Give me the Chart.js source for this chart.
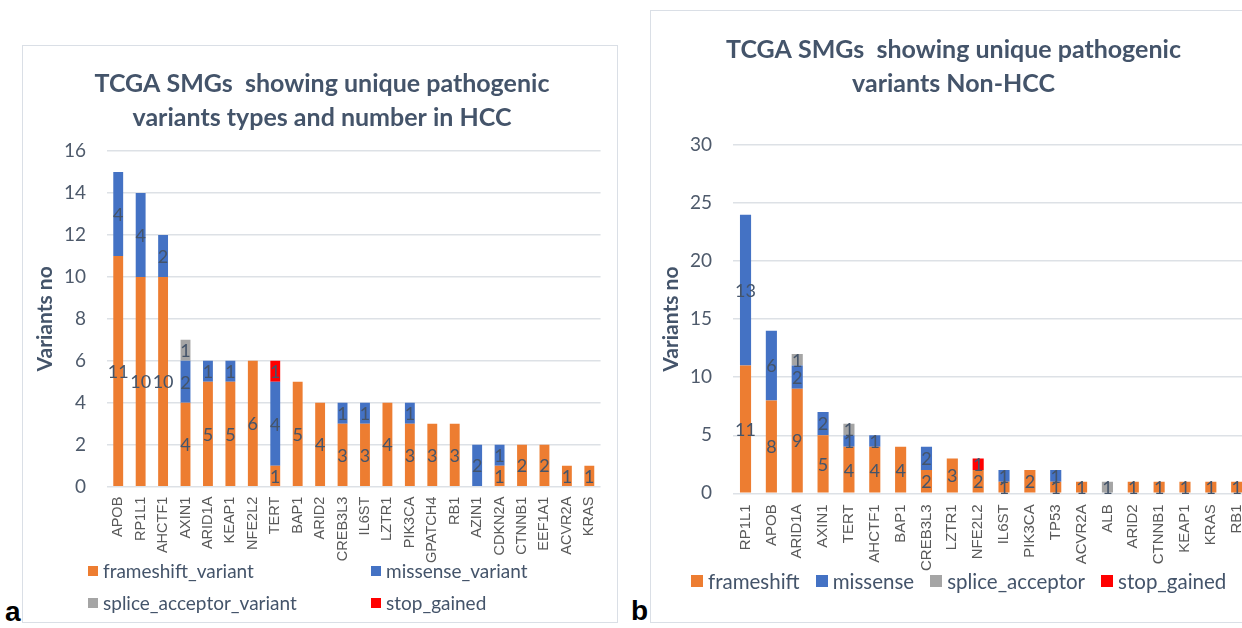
<!DOCTYPE html>
<html><head><meta charset="utf-8">
<script src="https://cdn.jsdelivr.net/npm/chart.js@4.4.0/dist/chart.umd.min.js"></script>
<style>
html,body{margin:0;padding:0;background:#fff;width:1242px;height:628px;overflow:hidden;position:relative;font-family:Lato,"Open Sans",sans-serif;}
.panel{position:absolute;border:1.5px solid #DADFE6;box-sizing:border-box;background:#fff;}
.wrap{position:absolute;}
.leg{position:absolute;color:#44546A;font-family:Lato,sans-serif;white-space:nowrap;}
.item{position:absolute;display:flex;align-items:center;}
.sw{display:inline-block;margin-right:5px;}
.tag{position:absolute;font-family:"Liberation Sans",Arial,sans-serif;font-weight:bold;font-size:28px;color:#000;line-height:1;}
</style></head>
<body>
<div class="panel" style="left:22px;top:45px;width:596px;height:578px;"></div>
<div class="panel" style="left:650px;top:10px;width:700px;height:613px;"></div>
<div class="wrap" style="left:25px;top:45px;width:592px;height:577px;"><canvas id="c1"></canvas></div>
<div class="wrap" style="left:650px;top:11px;width:620px;height:611px;"><canvas id="c2"></canvas></div>

<div class="leg" id="leg1" style="font-size:19px;"></div>
<div class="leg" id="leg2" style="font-size:20.5px;"></div>

<div class="tag" style="left:5px;top:598px;">a</div>
<div class="tag" style="left:631px;top:597px;">b</div>

<script>
// ---------- Data: chart a (HCC) ----------
const hccGenes = ["APOB","RP1L1","AHCTF1","AXIN1","ARID1A","KEAP1","NFE2L2","TERT","BAP1","ARID2","CREB3L3","IL6ST","LZTR1","PIK3CA","GPATCH4","RB1","AZIN1","CDKN2A","CTNNB1","EEF1A1","ACVR2A","KRAS"];
const hccFrameshift = [11,10,10,4,5,5,6,1,5,4,3,3,4,3,3,3,0,1,2,2,1,1];
const hccMissense   = [4,4,2,2,1,1,0,4,0,0,1,1,0,1,0,0,2,1,0,0,0,0];
const hccSplice     = [0,0,0,1,0,0,0,0,0,0,0,0,0,0,0,0,0,0,0,0,0,0];
const hccStop       = [0,0,0,0,0,0,0,1,0,0,0,0,0,0,0,0,0,0,0,0,0,0];
const hccSeriesNames = ["frameshift_variant","missense_variant","splice_acceptor_variant","stop_gained"];
const hccTitle = ["TCGA SMGs  showing unique pathogenic","variants types and number in HCC"];
const hccYMax = 16, hccYStep = 2;

// ---------- Data: chart b (Non-HCC) ----------
const nonGenes = ["RP1L1","APOB","ARID1A","AXIN1","TERT","AHCTF1","BAP1","CREB3L3","LZTR1","NFE2L2","IL6ST","PIK3CA","TP53","ACVR2A","ALB","ARID2","CTNNB1","KEAP1","KRAS","RB1"];
const nonFrameshift = [11,8,9,5,4,4,4,2,3,2,1,2,1,1,0,1,1,1,1,1];
const nonMissense   = [13,6,2,2,1,1,0,2,0,0,1,0,1,0,0,0,0,0,0,0];
const nonSplice     = [0,0,1,0,1,0,0,0,0,0,0,0,0,0,1,0,0,0,0,0];
const nonStop       = [0,0,0,0,0,0,0,0,0,1,0,0,0,0,0,0,0,0,0,0];
const nonSeriesNames = ["frameshift","missense","splice_acceptor","stop_gained"];
const nonTitle = ["TCGA SMGs  showing unique pathogenic","variants Non-HCC"];
const nonYMax = 30, nonYStep = 5;

const yTitleText = "Variants no";
const seriesColors = ["#ED7D31","#4472C4","#A5A5A5","#FF0000"];

const TXT = "#44546A";

const valueLabels = {
  id:'valueLabels',
  afterDatasetsDraw(chart, args, opts){
    const ctx = chart.ctx;
    ctx.save();
    ctx.font = opts.font;
    ctx.fillStyle = opts.color;
    ctx.textAlign = 'center';
    ctx.textBaseline = 'middle';
    chart.data.datasets.forEach((ds,i)=>{
      const meta = chart.getDatasetMeta(i);
      meta.data.forEach((el,j)=>{
        const v = ds.data[j];
        if (!v) return;
        const p = el.getProps(['x','y','base'], true);
        ctx.fillText(String(v), p.x, (p.y+p.base)/2 + 1);
      });
    });
    ctx.restore();
  }
};

function makeChart(id, genes, series, names, title, yMax, yStep, cfg){
  return new Chart(document.getElementById(id), {
    type:'bar',
    data:{
      labels: genes,
      datasets: series.map((d,i)=>({
        label: names[i], data: d, backgroundColor: seriesColors[i],
        borderWidth:0, barPercentage: cfg.barPct, categoryPercentage: 1
      }))
    },
    plugins:[valueLabels],
    options:{
      responsive:true, maintainAspectRatio:false, animation:false,
      layout:{padding:{left:cfg.padL, right:cfg.padR, top:0, bottom:cfg.padB}},
      plugins:{
        legend:{display:false},
        tooltip:{enabled:false},
        title:{display:true, text:title, color:TXT,
          font:{family:'Lato', size:cfg.titleSize, weight:'bold', lineHeight:1.35},
          padding:{top:cfg.titleTop, bottom:cfg.titleBottom}},
        valueLabels:{font:'18px Lato', color:TXT}
      },
      scales:{
        x:{stacked:true, grid:{display:false, drawTicks:false}, border:{display:false},
          ticks:{autoSkip:false, minRotation:90, maxRotation:90, padding:cfg.xPad,
            color:'#595959', font:{family:'Liberation Sans', size:cfg.xFont}},
          afterFit(s){ s.height = cfg.xHeight; }
        },
        y:{stacked:true, min:0, max:yMax, border:{display:false},
          grid:{color:'#DDE1E6', lineWidth:1.5, drawTicks:false},
          ticks:{stepSize:yStep, padding:cfg.yTickPad, color:'#4E5A6B', font:{family:'Lato', size:19}},
          title:{display:true, text:yTitleText, color:TXT, font:{family:'Lato', size:21, weight:'bold', lineHeight:1.2},
            padding:{top:cfg.yTitlePad, bottom:0}},
          afterFit(s){ s.width = cfg.yWidth; }
        }
      }
    }
  });
}

makeChart('c1', hccGenes, [hccFrameshift,hccMissense,hccSplice,hccStop], hccSeriesNames, hccTitle, hccYMax, hccYStep,
  {barPct:0.44, padL:14, padR:12, padB:45.3, titleSize:25, titleTop:22.1, titleBottom:16.4, xPad:10, xFont:14.5, xHeight:90,
   yTickPad:21, yTitlePad:-6.6, yWidth:68});

makeChart('c2', nonGenes, [nonFrameshift,nonMissense,nonSplice,nonStop], nonSeriesNames, nonTitle, nonYMax, nonYStep,
  {barPct:0.43, padL:7.4, padR:20.4, padB:33.7, titleSize:25, titleTop:22.1, titleBottom:44.4, xPad:11, xFont:15, xHeight:95,
   yTickPad:20.6, yTitlePad:1.5, yWidth:75.2});

// ---------- HTML legends ----------
function legendItem(parent, name, color, x, y, box){
  const it = document.createElement('div');
  it.className = 'item';
  it.style.left = x + 'px'; it.style.top = y + 'px';
  const sw = document.createElement('span');
  sw.className = 'sw';
  sw.style.width = box + 'px'; sw.style.height = box + 'px'; sw.style.background = color;
  const tx = document.createElement('span');
  tx.textContent = name;
  it.appendChild(sw); it.appendChild(tx);
  parent.appendChild(it);
  return it;
}
const leg1 = document.getElementById('leg1');
leg1.style.left = '0px'; leg1.style.top = '0px';
const pos1 = [[88,559],[371,559],[88,591],[371,591]];
hccSeriesNames.forEach((n,i)=>legendItem(leg1, n, seriesColors[i], pos1[i][0], pos1[i][1], 10));

const leg2 = document.getElementById('leg2');
leg2.style.left = '0px'; leg2.style.top = '0px';
let x2 = 691;
nonSeriesNames.forEach((n,i)=>{
  const it = legendItem(leg2, n, seriesColors[i], x2, 569, 12);
  x2 += it.getBoundingClientRect().width + 16;
});
</script>
</body></html>
